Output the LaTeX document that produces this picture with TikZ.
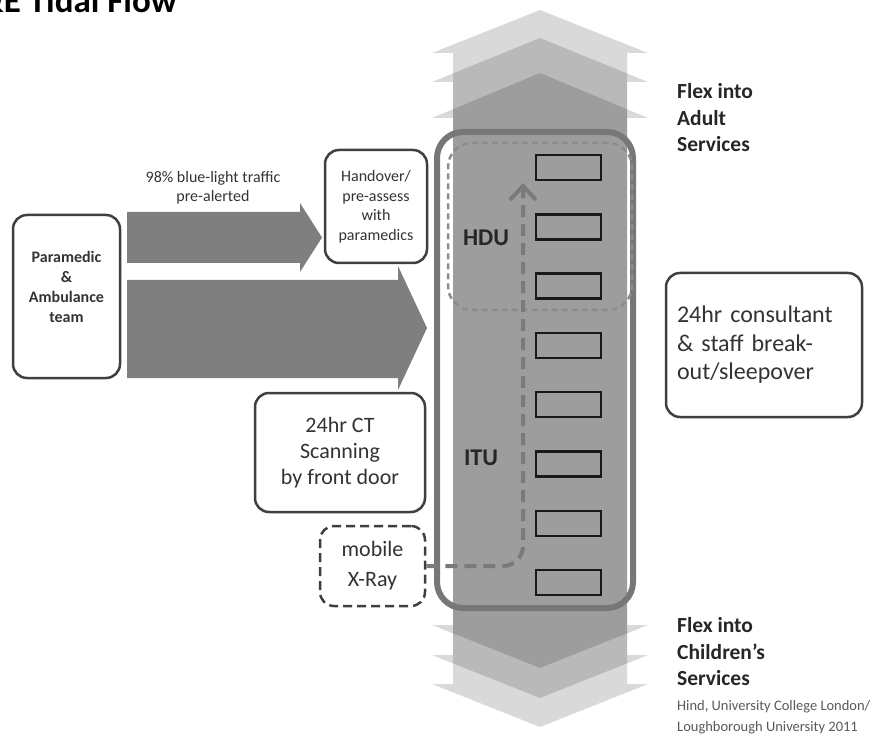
\documentclass[tikz,border=0pt]{standalone}
\usepackage{fontspec}
\setmainfont{Carlito}
\usetikzlibrary{arrows.meta}
\definecolor{boxline}{HTML}{3F3F3F}
\definecolor{flowgray}{HTML}{7F7F7F}
\definecolor{unitline}{HTML}{777777}
\definecolor{hduline}{HTML}{8C8C8C}
\definecolor{citegray}{HTML}{595959}
\definecolor{dashgray}{HTML}{7A7A7A}
\definecolor{textdark}{HTML}{333333}
\newcommand{\fsz}[2]{\fontsize{#1}{#2}\selectfont}
\newcommand{\tidalarrow}[4]{%
  \fill[tidal] (540,#1) -- (648,#2) -- (627,#2) -- (627,#3) -- (648,#3) -- (540,#4)
    -- (432,#3) -- (453,#3) -- (453,#2) -- (432,#2) -- cycle;}
\begin{document}
\begin{tikzpicture}[x=1pt,y=-1pt,
  tidal/.style={fill=black, fill opacity=0.15},
  flowarrow/.style={fill=flowgray},
  infobox/.style={draw=boxline, line width=2.5pt, rounded corners=14pt, fill=white,
    align=center, inner sep=0pt, text=textdark},
  dashbox/.style={infobox, dash pattern=on 9pt off 5pt},
  unitbox/.style={draw=unitline, line width=6pt, rounded corners=26pt, inner sep=0pt,
    minimum width=196pt, minimum height=476pt},
  hdubox/.style={draw=hduline, line width=2.5pt, rounded corners=24pt, inner sep=0pt,
    dash pattern=on 6pt off 4pt, minimum width=184pt, minimum height=167pt},
  bedbox/.style={draw=black!90, line width=2.5pt, minimum width=65pt, minimum height=25pt, inner sep=0pt},
  wardlabel/.style={font=\fsz{24}{28}\bfseries, text=black!85, inner sep=0pt},
  flexlabel/.style={font=\fsz{21.5}{26.5}\bfseries, text=black!85, align=left, anchor=west, inner sep=0pt},
  moveline/.style={draw=dashgray, line width=4pt, dash pattern=on 12pt off 7pt,
    rounded corners=20pt, -{Straight Barb[length=14pt,width=26pt,line width=4pt]}}
]
\useasboundingbox (0,0) rectangle (873,735);
% title (cut off at the page edge, as in the reference)
\node[anchor=base east, inner sep=0pt, font=\fsz{35}{40}\bfseries] (title) at (177,13) {A\&E Tidal Flow};
% tidal double arrows
\tidalarrow{10}{53}{684}{727}
\tidalarrow{38}{82}{655}{698}
\tidalarrow{73}{118}{625}{668}
% left flow arrows
\fill[flowarrow] (127,212) -- (300,212) -- (300,203) -- (322,237.5) -- (300,272) -- (300,263) -- (127,263) -- cycle;
\fill[flowarrow] (127,280) -- (398,280) -- (398,266) -- (427,328) -- (398,390) -- (398,378) -- (127,378) -- cycle;
% unit
\node[unitbox] (unit) at (535,370) {};
\node[hdubox] (hdu) at (540,226.5) {};
\foreach \i in {1,...,8} {
  \node[bedbox] (bed\i) at (568.5,{167.5+59.3*(\i-1)}) {};
}
\node[wardlabel] (hdulabel) at (486,238) {HDU};
\node[wardlabel] (itulabel) at (481,458) {ITU};
% boxes
\node[infobox, minimum width=107pt, minimum height=163pt] (para) at (66.5,296.5) {};
\node[font=\fsz{16}{20}\bfseries, align=center, text=textdark, inner sep=0pt] (paratext) at (66.5,287)
  {Paramedic\\\&\\Ambulance\\team};
\node[infobox, font=\fsz{16}{19.5}, minimum width=102pt, minimum height=113pt] (handover) at (376,206.5)
  {Handover/\\pre-assess\\with\\paramedics};
\node[infobox, font=\fsz{22}{26}, minimum width=170pt, minimum height=119pt] (ct) at (340,452.5)
  {24hr CT\\Scanning\\by front door};
\node[dashbox, font=\fsz{22}{30}, minimum width=105pt, minimum height=80pt] (xray) at (372.5,566)
  {mobile\\X-Ray};
\node[infobox, font=\fsz{24}{28.5}, align=left, text width=174pt, minimum width=196pt, minimum height=144pt] (consult) at (764,345)
  {24hr consultant\\\& staff break-\\out/sleepover};
% movement arrow
\coordinate (hdutip) at (523,183);
\draw[moveline] (xray.east) -| (hdutip);
% texts
\node[font=\fsz{16}{19}, align=center, text=textdark, inner sep=0pt] (pretext) at (213,187.5)
  {98\% blue-light traffic\\pre-alerted};
\node[flexlabel] (flexadult) at (677,118) {Flex into\\Adult\\Services};
\node[flexlabel] (flexchild) at (677,652) {Flex into\\Children’s\\Services};
\node[font=\fsz{14.5}{21}, text=citegray, align=left, anchor=west, inner sep=0pt] (cite) at (677,717.5)
  {Hind, University College London/\\Loughborough University 2011};
\end{tikzpicture}
\end{document}
